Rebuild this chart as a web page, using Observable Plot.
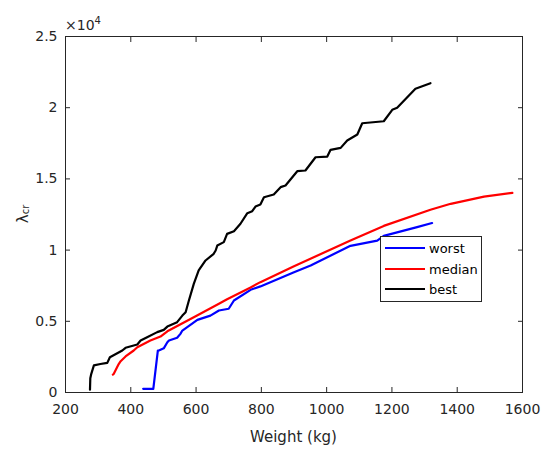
<!DOCTYPE html>
<html>
<head>
<meta charset="utf-8">
<script src="https://cdn.jsdelivr.net/npm/d3@7"></script>
<script src="https://cdn.jsdelivr.net/npm/@observablehq/plot@0.6"></script>
<style>
  body { margin: 0; background: #fff; }
  #chart svg { display: block; }
</style>
</head>
<body>
<div id="chart"></div>
<script>
// Weight (kg) and λcr (in units of 10^4)
const worstX = [438, 469, 483, 486, 501, 512, 517, 542, 552, 558, 573, 604, 644, 670, 700, 716, 767, 797, 900, 951, 971, 1073, 1155, 1175, 1277, 1323];
const worstY = [0.026, 0.026, 0.295, 0.295, 0.31, 0.353, 0.365, 0.384, 0.412, 0.435, 0.459, 0.51, 0.54, 0.576, 0.588, 0.646, 0.721, 0.745, 0.845, 0.892, 0.915, 1.03, 1.067, 1.1, 1.161, 1.19];

const medianX = [345, 348, 363, 369, 384, 409, 420, 460, 491, 512, 593, 670, 695, 767, 797, 900, 1073, 1175, 1318, 1380, 1482, 1569];
const medianY = [0.126, 0.131, 0.2, 0.22, 0.253, 0.295, 0.318, 0.365, 0.393, 0.43, 0.529, 0.623, 0.655, 0.738, 0.775, 0.887, 1.067, 1.17, 1.283, 1.325, 1.376, 1.402];

const bestX = [275, 276, 279, 287, 307, 328, 336, 374, 384, 420, 430, 450, 481, 501, 512, 542, 558, 568, 578, 593, 608, 629, 654, 660, 665, 685, 695, 716, 736, 757, 772, 782, 797, 808, 838, 859, 874, 910, 935, 966, 1002, 1012, 1043, 1063, 1094, 1109, 1175, 1201, 1216, 1272, 1318];
const bestY = [0.02, 0.10, 0.131, 0.19, 0.20, 0.208, 0.248, 0.295, 0.314, 0.337, 0.365, 0.388, 0.424, 0.44, 0.463, 0.494, 0.54, 0.564, 0.646, 0.763, 0.857, 0.927, 0.974, 0.997, 1.032, 1.056, 1.114, 1.133, 1.185, 1.259, 1.273, 1.306, 1.32, 1.371, 1.39, 1.442, 1.454, 1.554, 1.559, 1.652, 1.657, 1.704, 1.718, 1.77, 1.812, 1.891, 1.905, 1.985, 1.999, 2.133, 2.172];

const seriesNames = ["worst", "median", "best"];
const seriesColors = ["#0000ff", "#ff0000", "#000000"];
const xTicks = [200, 400, 600, 800, 1000, 1200, 1400, 1600];
const yTicks = [0, 0.5, 1, 1.5, 2, 2.5];

const seriesData = [
  {name: "worst", xs: worstX, ys: worstY},
  {name: "median", xs: medianX, ys: medianY},
  {name: "best", xs: bestX, ys: bestY}
];
const rows = seriesData.flatMap(s => s.xs.map((x, i) => ({series: s.name, x, y: s.ys[i]})));

const FONT = "DejaVu Sans, Liberation Sans, sans-serif";
const INK = "#262626";

const plot = Plot.plot({
  width: 548,
  height: 449,
  marginLeft: 65,
  marginRight: 26,
  marginTop: 36,
  marginBottom: 57,
  style: {fontFamily: FONT, fontSize: "14px", color: INK, background: "#fff", overflow: "visible"},
  x: {domain: [200, 1600]},
  y: {domain: [0, 2.5]},
  color: {domain: seriesNames, range: seriesColors},
  marks: [
    Plot.axisX(xTicks, {anchor: "bottom", tickSize: -5, tickPadding: 17, label: null, stroke: INK, fill: INK, fontSize: 14, tickFormat: d => String(d)}),
    Plot.axisX(xTicks, {anchor: "top", tickSize: -5, tickFormat: () => "", label: null, stroke: INK}),
    Plot.axisY(yTicks, {anchor: "left", tickSize: -5, tickPadding: 13, label: null, stroke: INK, fill: INK, fontSize: 14, tickFormat: d => String(d)}),
    Plot.axisY(yTicks, {anchor: "right", tickSize: -5, tickFormat: () => "", label: null, stroke: INK}),
    Plot.frame({stroke: INK, strokeWidth: 1}),
    Plot.line(rows, {x: "x", y: "y", z: "series", stroke: "series", strokeWidth: 2.2, strokeLinejoin: "round"})
  ]
});

document.getElementById("chart").appendChild(plot);

const svg = d3.select(plot);

// x-axis label
svg.append("text")
  .attr("x", 293.5).attr("y", 442)
  .attr("text-anchor", "middle")
  .attr("font-family", FONT).attr("font-size", 15).attr("fill", INK)
  .text("Weight (kg)");

// y-axis label λcr
const yl = svg.append("text")
  .attr("transform", "translate(28,214) rotate(-90)")
  .attr("text-anchor", "middle")
  .attr("font-family", FONT).attr("fill", INK);
yl.append("tspan").attr("font-size", 15).text("λ");
yl.append("tspan").attr("font-size", 10).attr("dy", 1).text("cr");

// exponent label ×10^4
const ex = svg.append("text")
  .attr("x", 65).attr("y", 30)
  .attr("text-anchor", "start")
  .attr("font-family", FONT).attr("fill", INK).attr("font-size", 14);
ex.append("tspan").text("×10");
ex.append("tspan").attr("font-size", 10).attr("dy", -6).text("4");

// legend
const lg = svg.append("g").attr("text-anchor", "start");
lg.append("rect").attr("x", 380.5).attr("y", 236.5).attr("width", 101).attr("height", 65)
  .attr("fill", "#fff").attr("stroke", INK).attr("stroke-width", 1);
const legendY = [248, 269, 289];
seriesNames.forEach((name, i) => {
  lg.append("line").attr("x1", 385).attr("x2", 425).attr("y1", legendY[i]).attr("y2", legendY[i])
    .attr("stroke", seriesColors[i]).attr("stroke-width", 2.2);
  lg.append("text").attr("x", 429).attr("y", legendY[i] + 4.5)
    .attr("text-anchor", "start")
    .attr("font-family", FONT).attr("font-size", 13).attr("fill", "#000").text(name);
});
</script>
</body>
</html>
